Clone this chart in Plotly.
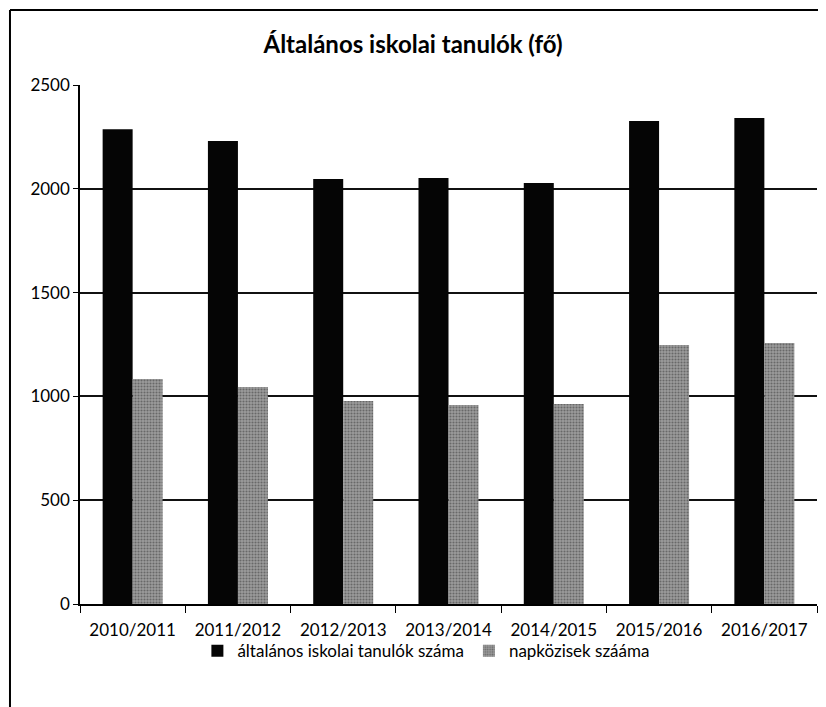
import plotly.graph_objects as go

years = ["2010/2011", "2011/2012", "2012/2013", "2013/2014",
         "2014/2015", "2015/2016", "2016/2017"]
tanulok = [2287, 2230, 2047, 2052, 2028, 2327, 2341]
napkozisek = [1084, 1045, 978, 959, 963, 1248, 1257]

font_name = "Lato, Open Sans, sans-serif"

fig = go.Figure()

fig.add_trace(go.Bar(
    x=years,
    y=tanulok,
    name="általános iskolai tanulók száma",
    marker=dict(color="#050505", line=dict(width=0))
))

fig.add_trace(go.Bar(
    x=years,
    y=napkozisek,
    name="napközisek szááma",
    marker=dict(
        color="#8a8a8a",
        line=dict(width=0),
        pattern=dict(shape=".", fgcolor="#333333", bgcolor="#9c9c9c", size=3, solidity=0.4)
    )
))

# frame around the whole chart (right and bottom edges are cut off in the source)
fig.add_shape(type="line", xref="paper", yref="paper",
              x0=-0.095, x1=1.2, y0=1.1445, y1=1.1445,
              line=dict(color="black", width=2))
fig.add_shape(type="line", xref="paper", yref="paper",
              x0=-0.095, x1=-0.095, y0=1.1445, y1=-0.3,
              line=dict(color="black", width=2))

# page body adds an 8px margin, so the figure is sized 8px smaller
fig.update_layout(
    width=818,
    height=699,
    margin=dict(l=72, r=9, t=77, b=103),
    paper_bgcolor="white",
    plot_bgcolor="white",
    barmode="group",
    bargap=0.43,
    bargroupgap=0,
    font=dict(family=font_name, size=17, color="black"),
    title=dict(
        text="<b>Általános iskolai tanulók (fő)</b>",
        x=(413 - 8) / 818, xref="container", xanchor="center",
        y=1 - 37 / 699, yref="container", yanchor="middle",
        font=dict(family=font_name, size=24, color="black")
    ),
    legend=dict(
        orientation="h",
        x=0.47, xanchor="center",
        y=-0.091, yanchor="middle",
        bgcolor="rgba(0,0,0,0)",
        font=dict(family=font_name, size=17, color="black"),
        itemwidth=30
    ),
    showlegend=True
)

fig.update_xaxes(
    showline=True, linecolor="black", linewidth=1.5,
    ticks="outside", ticklen=7, tickcolor="black",
    tickson="boundaries", ticklabelstandoff=10,
    showgrid=False
)

fig.update_yaxes(
    range=[0, 2500], dtick=500,
    showline=True, linecolor="black", linewidth=1.5,
    ticks="outside", ticklen=5, tickcolor="black",
    showgrid=True, gridcolor="#111111", gridwidth=1.5,
    zeroline=False
)

fig.write_html("out.html")
